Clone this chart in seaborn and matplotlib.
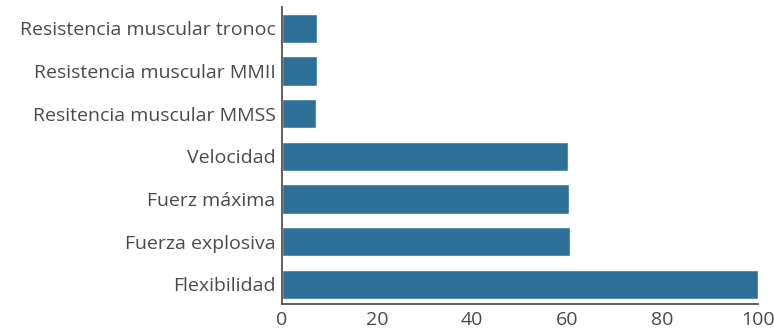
import matplotlib
matplotlib.use("Agg")
import matplotlib.pyplot as plt
import seaborn as sns
import pandas as pd

categorias = [
    "Resistencia muscular tronoc",
    "Resistencia muscular MMII",
    "Resitencia muscular MMSS",
    "Velocidad",
    "Fuerz máxima",
    "Fuerza explosiva",
    "Flexibilidad",
]
valores = [7.5, 7.5, 7.3, 60.2, 60.4, 60.5, 100]
x_ticks = [0, 20, 40, 60, 80, 100]

df = pd.DataFrame({"categoria": categorias, "valor": valores})

sns.set_style("white")
plt.rcParams["font.family"] = ["Open Sans", "DejaVu Sans"]

fig = plt.figure(figsize=(7.74, 3.30), dpi=100)
ax = fig.add_axes([0.364, 0.079, 0.615, 0.9])

sns.barplot(data=df, x="valor", y="categoria", orient="h", color="#2d7098",
            saturation=1, width=0.69, ax=ax)

ax.set_xlim(0, 100)
ax.set_ylim(6.46, -0.5)
ax.set_xticks(x_ticks)
ax.set_xlabel("")
ax.set_ylabel("")
sns.despine(ax=ax)
for s in ["left", "bottom"]:
    ax.spines[s].set_color("#5a5050")
    ax.spines[s].set_linewidth(1.3)
ax.tick_params(axis="x", direction="in", length=4.5, width=1.1, color="#5a5050",
               labelsize=14, labelcolor="#4a4a4a", pad=5)
ax.tick_params(axis="y", length=0, labelsize=14, labelcolor="#4a4a4a", pad=4.5)
for lbl in ax.get_xticklabels():
    lbl.set_clip_on(False)

fig.savefig("out.png", dpi=100)
